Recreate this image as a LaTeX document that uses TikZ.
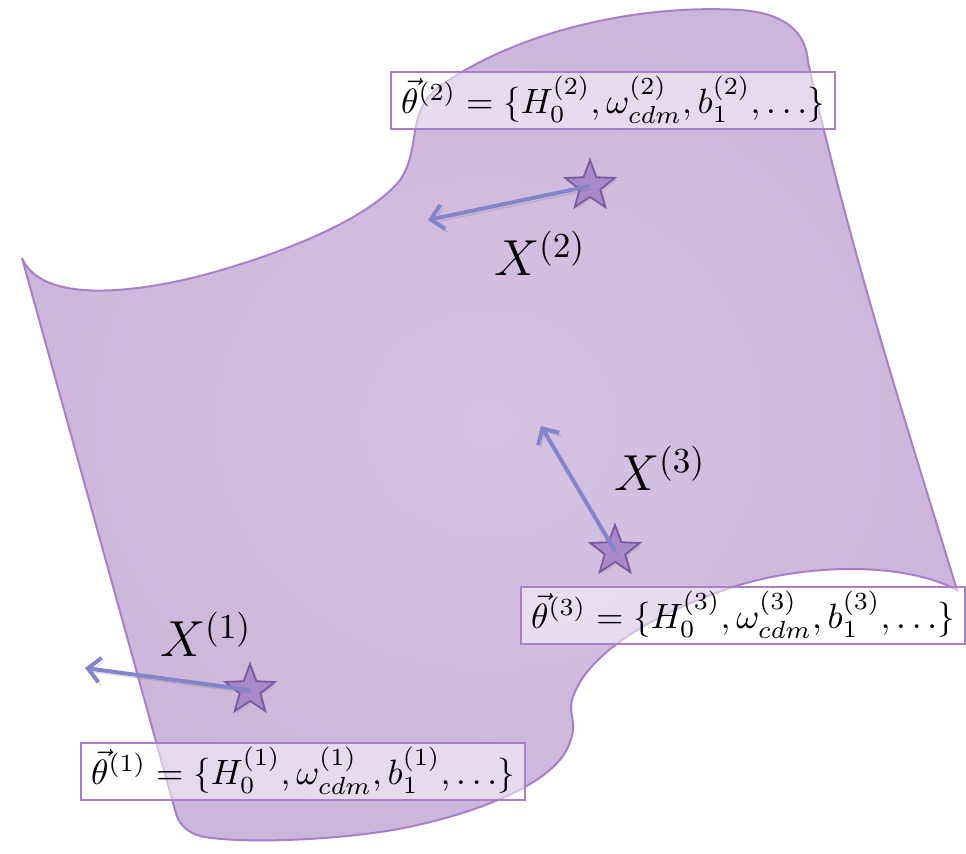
\documentclass[tikz,border=0pt]{standalone}
\usepackage{tikz}
\usetikzlibrary{shapes.geometric, positioning, arrows.meta, shadows}
\definecolor{sheetfill}{RGB}{214,195,228}
\definecolor{sheetdark}{RGB}{204,182,219}
\definecolor{sheetline}{RGB}{170,127,201}
\definecolor{starfill}{RGB}{166,131,201}
\definecolor{starline}{RGB}{124,88,158}
\definecolor{vecblue}{RGB}{132,132,202}

\begin{document}
\begin{tikzpicture}[x=0.01cm, y=-0.01cm,
    paramset/.style={draw=sheetline, line width=0.02cm, fill=white, fill opacity=0.5, text opacity=1, minimum width=4.43cm, minimum height=0.57cm, inner sep=0pt, font=\fontsize{10.3}{12}\selectfont},
    sample/.style={star, star points=5, star point ratio=2.4, draw=starline, line width=0.018cm, fill=starfill, fill opacity=0.85, minimum size=0.52cm, inner sep=0pt, drop shadow={opacity=0.2, shadow xshift=0.6pt, shadow yshift=-0.6pt}},
    obs/.style={font=\fontsize{14.5}{17}\selectfont},
    vec/.style={draw=vecblue, line width=0.04cm, arrows = {-Straight Barb[length=3.5pt, width=7pt]},
      preaction={draw=black!60, draw opacity=0.2, transform canvas={shift={(0.7pt,-0.9pt)}}}}]
  \useasboundingbox (0,0) rectangle (966,853);

  % the parameter manifold
  \path[draw=sheetline, line width=0.02cm, inner color=sheetfill, outer color=sheetdark]
    (22,258) .. controls (40,300) and (120,296) .. (200,276)
    .. controls (290,252) and (372,216) .. (400,180)
    .. controls (422,148) and (405,112) .. (440,86)
    .. controls (520,30) and (640,4) .. (740,10)
    .. controls (785,13) and (806,32) .. (808,62)
    .. controls (850,250) and (905,420) .. (957,590)
    .. controls (900,560) and (800,565) .. (733,587)
    .. controls (650,615) and (585,655) .. (572,700)
    .. controls (568,715) and (578,722) .. (570,742)
    .. controls (555,790) and (450,820) .. (393,830)
    .. controls (320,842) and (230,843) .. (200,836)
    .. controls (186,832) and (178,823) .. (175,810)
    -- cycle;

  % samples on the manifold
  \node[sample] at (590,186) (star2) {};
  \node[sample] at (615,551) (star3) {};
  \node[sample] at (250,690) (star1) {};

  \coordinate (tip2) at (428,220);
  \coordinate (tip3) at (541,426);
  \coordinate (tip1) at (85,668);

  \draw[vec] (star2.center) -- (tip2);
  \draw[vec] (star3.center) -- (tip3);
  \draw[vec] (star1.center) -- (tip1);

  \node[obs] at (540,253) (x2) {$X^{(2)}$};
  \node[obs] at (660,468) (x3) {$X^{(3)}$};
  \node[obs] at (206,634) (x1) {$X^{(1)}$};

  % parameter sets
  \node[paramset] at (613,100) (theta2) {$\vec{\theta}^{(2)}=\{H_0^{(2)},\omega_{cdm}^{(2)},b_1^{(2)},\dots\}$};
  \node[paramset] at (743,615) (theta3) {$\vec{\theta}^{(3)}=\{H_0^{(3)},\omega_{cdm}^{(3)},b_1^{(3)},\dots\}$};
  \node[paramset] at (303,771) (theta1) {$\vec{\theta}^{(1)}=\{H_0^{(1)},\omega_{cdm}^{(1)},b_1^{(1)},\dots\}$};
\end{tikzpicture}
\end{document}
